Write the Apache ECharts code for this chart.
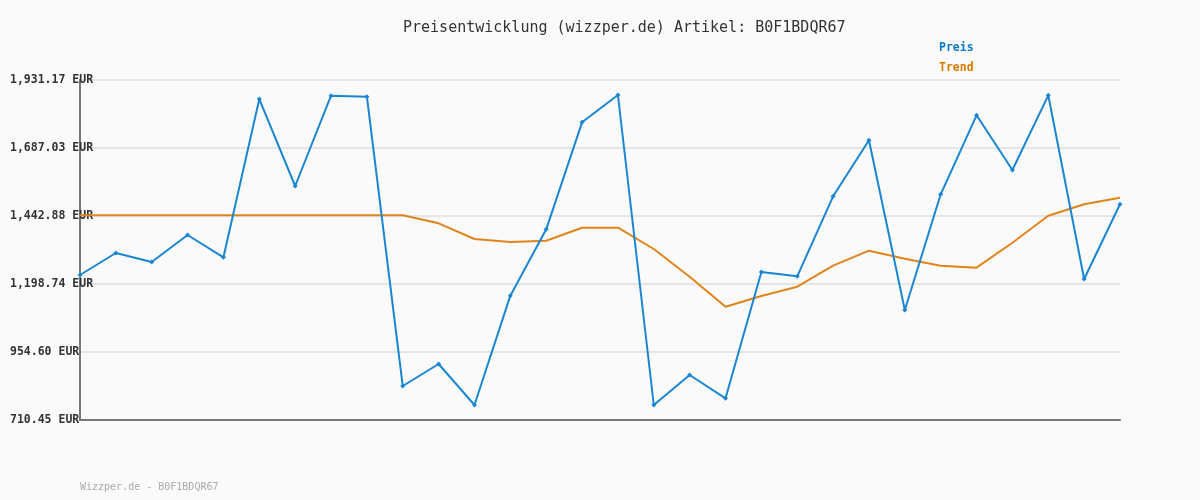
<!DOCTYPE html>
<html>
<head>
<meta charset="utf-8">
<script src="https://cdn.jsdelivr.net/npm/echarts@6/dist/echarts.min.js"></script>
<style>
html,body{margin:0;padding:0;background:#fafafa;}
#chart{width:1200px;height:500px;}
</style>
</head>
<body>
<div id="chart"></div>
<script>
const categories = ['1','2','3','4','5','6','7','8','9','10','11','12','13','14','15','16','17','18','19','20','21','22','23','24','25','26','27','28','29','30'];
const preis = [1231.1, 1310.0, 1277.7, 1374.7, 1294.6, 1862.9, 1550.6, 1874.8, 1871.2, 832.5,
  911.5, 764.3, 1156.8, 1395.1, 1779.2, 1877.3, 764.3, 872.0, 788.4, 1241.8,
  1226.4, 1513.6, 1714.7, 1105.4, 1520.8, 1804.4, 1608.0, 1876.2, 1216.7, 1484.9];
const trend = [1445.5, 1445.5, 1445.5, 1445.5, 1445.5, 1445.5, 1445.5, 1445.5, 1445.5, 1445.5,
  1416.7, 1360.3, 1349.5, 1354.2, 1400.9, 1400.9, 1324.4, 1225.0, 1117.3, 1155.6,
  1189.1, 1264.5, 1318.3, 1289.6, 1264.5, 1257.3, 1347.0, 1444.0, 1484.9, 1508.6];
const yMin = 710.45;
const yMax = 1931.17;
const yTickLabels = ['710.45 EUR', '954.60 EUR', '1,198.74 EUR', '1,442.88 EUR', '1,687.03 EUR', '1,931.17 EUR'];

const chart = echarts.init(document.getElementById('chart'), null, {renderer: 'canvas'});
const mono = 'DejaVu Sans Mono';
chart.setOption({
  backgroundColor: '#fafafa',
  animation: false,
  title: [
    {
      text: 'Preisentwicklung (wizzper.de) Artikel: B0F1BDQR67',
      left: 403, top: 21, padding: 0,
      textStyle: {fontFamily: mono, fontSize: 15, fontWeight: 'normal', color: '#333'}
    },
    {
      text: 'Wizzper.de - B0F1BDQR67',
      left: 80, top: 482, padding: 0,
      textStyle: {fontFamily: mono, fontSize: 10, fontWeight: 'normal', color: '#aaa'}
    }
  ],
  legend: {
    orient: 'vertical',
    left: 934, top: 42, padding: 0,
    itemWidth: 0, itemHeight: 0, itemGap: 8,
    icon: 'rect',
    data: [
      {name: 'Preis', textStyle: {color: '#0a78c8'}},
      {name: 'Trend', textStyle: {color: '#dd7700'}}
    ],
    textStyle: {fontFamily: mono, fontSize: 11.5, fontWeight: 'bold', padding: 0}
  },
  grid: {left: 80, right: 80, top: 80, bottom: 80, containLabel: false},
  xAxis: {
    type: 'category',
    data: categories,
    boundaryGap: false,
    axisLine: {show: true, lineStyle: {color: '#777', width: 2}},
    axisTick: {show: false},
    axisLabel: {show: false},
    splitLine: {show: false}
  },
  yAxis: {
    type: 'value',
    min: yMin,
    max: yMax,
    interval: 244.144,
    axisLine: {show: true, lineStyle: {color: '#777', width: 2}},
    axisTick: {show: false},
    splitLine: {show: true, lineStyle: {color: '#e5e5e5', width: 2}},
    axisLabel: {
      align: 'left', margin: 70,
      fontFamily: mono, fontSize: 11.5, fontWeight: 'bold', color: '#333',
      formatter: function (v, i) { return yTickLabels[i]; }
    }
  },
  series: [
    {
      name: 'Preis', type: 'line', data: preis,
      itemStyle: {color: '#1a86d2'},
      lineStyle: {color: '#1a86d2', width: 2},
      symbol: 'diamond', symbolSize: 5, showSymbol: true,
      z: 3
    },
    {
      name: 'Trend', type: 'line', data: trend,
      itemStyle: {color: '#e0841c'},
      lineStyle: {color: '#e0841c', width: 2},
      symbol: 'none',
      z: 2
    }
  ]
});
</script>
</body>
</html>
